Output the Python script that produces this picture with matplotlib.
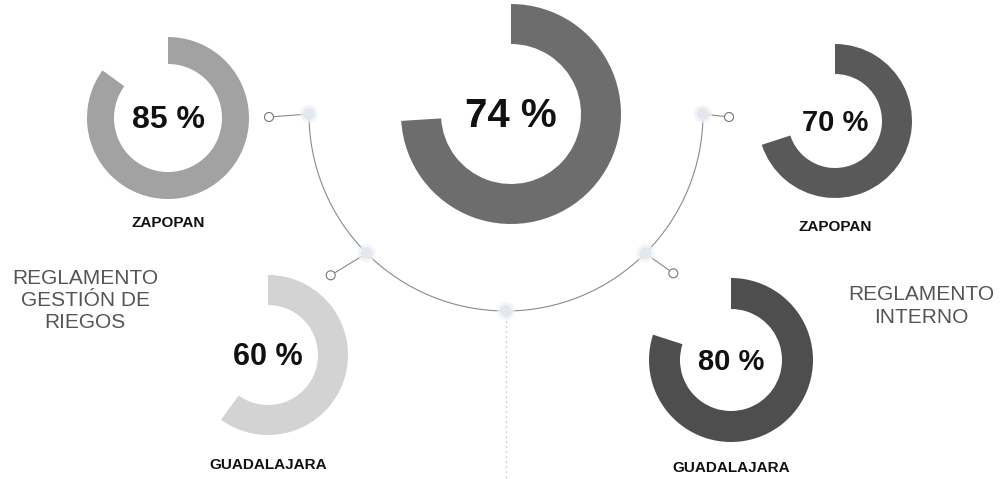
import matplotlib
matplotlib.use('Agg')
import matplotlib.pyplot as plt
from matplotlib.patches import Wedge, Arc, Circle
import numpy as np

# donut values (percent) and city labels
values = [85, 74, 70, 60, 80]
cities = ['ZAPOPAN', '', 'ZAPOPAN', 'GUADALAJARA', 'GUADALAJARA']
colors = ['#a2a2a2', '#6d6d6d', '#595959', '#d3d3d3', '#4e4e4e']
groups = ['REGLAMENTO\nGESTIÓN DE\nRIEGOS', 'REGLAMENTO\nINTERNO']

# layout in pixel coordinates (y measured from top)
centers = [(168, 118), (511, 114), (835, 121), (268, 355), (731, 360)]
radii = [81, 110, 77, 80, 82]
widths = [27, 40, 30, 30, 31]
pct_sizes = [23, 29, 21, 22, 21]
city_y = [223, 0, 227, 465, 468]

W, H = 1005, 479
fig = plt.figure(figsize=(W / 100, H / 100), dpi=100)
ax = fig.add_axes([0, 0, 1, 1])
ax.set_xlim(0, W)
ax.set_ylim(0, H)
ax.set_aspect('equal')
ax.axis('off')
fig.patch.set_facecolor('white')

for v, c, col, (cx, cy), r, w, fs, ly in zip(values, cities, colors, centers, radii,
                                              widths, pct_sizes, city_y):
    y = H - cy
    # clockwise from 12 o'clock
    ax.add_patch(Wedge((cx, y), r, 90 - 3.6 * v, 90, width=w, facecolor=col, edgecolor='none'))
    ax.text(cx, y - 2, f'{v} %', ha='center', va='center', fontsize=fs,
            fontweight='bold', family='Liberation Sans', color='#111111')
    if c:
        ax.text(cx, H - ly, c, ha='center', va='center',
                fontsize=11, fontweight='bold', family='Liberation Sans', color='#111111')

# connector arc
acx, acy, R = 506, H - 114, 197
ax.add_patch(Arc((acx, acy), 2 * R, 2 * R, theta1=180, theta2=360, color='#8a8a8a', lw=0.8, zorder=1))

node_angles = [180, 225, 270, 315, 360]
tips = [(-40, -3), (-36, -22), None, (28, -20), (26, -3)]
for a, t in zip(node_angles, tips):
    nx = acx + R * np.cos(np.radians(a))
    ny = acy + R * np.sin(np.radians(a))
    if t is None:
        ax.plot([nx, nx], [ny, 0], color='#b5b5b5', lw=0.9, ls=(0, (1, 3)), zorder=1)
    else:
        tx, ty = nx + t[0], ny + t[1]
        ax.plot([nx, tx], [ny, ty], color='#8a8a8a', lw=0.8, zorder=1)
        ax.add_patch(Circle((tx, ty), 4.5, facecolor='white', edgecolor='#777777', lw=0.8, zorder=3))
    ax.add_patch(Circle((nx, ny), 9, facecolor='#eef2f6', edgecolor='none', alpha=0.7, zorder=2))
    ax.add_patch(Circle((nx, ny), 6, facecolor='#e2e8ee', edgecolor='none', zorder=2))

ax.text(85, H - 301, groups[0], ha='center', va='center', fontsize=15, color='#555555',
        family='Liberation Sans', linespacing=1.2)
ax.text(921, H - 306, groups[1], ha='center', va='center', fontsize=15, color='#555555',
        family='Liberation Sans', linespacing=1.25)

fig.savefig('out.png', dpi=100, facecolor='white')
